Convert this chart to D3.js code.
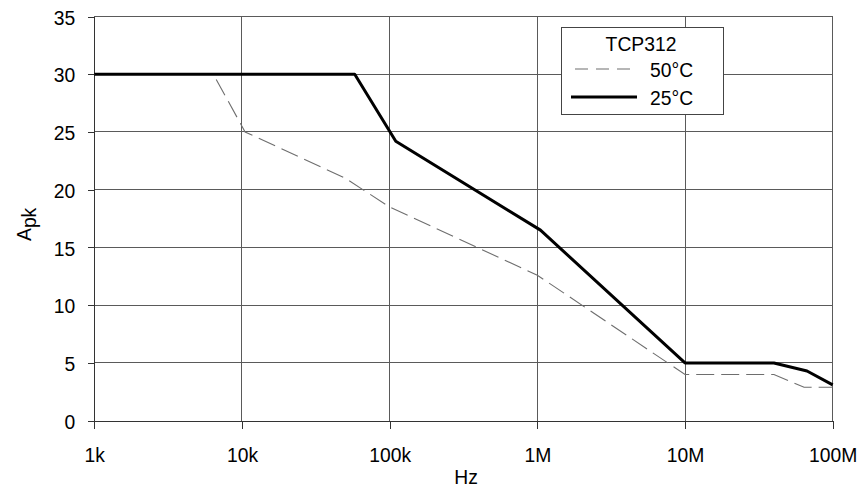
<!DOCTYPE html>
<html>
<head>
<meta charset="utf-8">
<script src="https://cdn.jsdelivr.net/npm/d3@7"></script>
<style>
  html, body { margin: 0; padding: 0; background: #fff; }
  svg { display: block; font-family: "Liberation Sans", Arial, sans-serif; }
</style>
</head>
<body>
<svg id="chart" width="861" height="491"></svg>
<script>
// ---- data ----
const xTicks = [1e3, 1e4, 1e5, 1e6, 1e7, 1e8];
const xTickLabels = ["1k", "10k", "100k", "1M", "10M", "100M"];
const yTicks = [0, 5, 10, 15, 20, 25, 30, 35];

const freq25 = [1e3, 5.8e4, 1.1e5, 1.05e6, 1e7, 4e7, 6.7e7, 1e8];
const amp25  = [30,  30,    24.2,  16.5,   5,   5,   4.3,   3.1];

const freq50 = [1e3, 6.4e3, 1.05e4, 5e4, 1e5,  1e6,  1e7, 4e7, 6.4e7, 1e8];
const amp50  = [30,  30,    25,     21,  18.5, 12.6, 4.0, 4.0, 2.9,   2.9];

const legendTitle = "TCP312";
const seriesNames = ["50\u00B0C", "25\u00B0C"];

// ---- layout ----
const svg = d3.select("#chart");
const x = d3.scaleLog().domain([1e3, 1e8]).range([94.3, 832.7]);
const y = d3.scaleLinear().domain([0, 35]).range([420.7, 16.5]);
const SX = 0.92;
const gridColor = "#5a5a5a";

// gridlines
const grid = svg.append("g");
grid.selectAll("line.h").data(yTicks.filter(d => d > 0)).join("line")
  .attr("x1", x(1e3)).attr("x2", x(1e8))
  .attr("y1", d => y(d)).attr("y2", d => y(d))
  .attr("stroke", gridColor).attr("stroke-width", 1).attr("shape-rendering", "crispEdges");
grid.selectAll("line.v").data(xTicks.slice(1)).join("line")
  .attr("x1", d => x(d)).attr("x2", d => x(d))
  .attr("y1", y(0)).attr("y2", y(35))
  .attr("stroke", gridColor).attr("stroke-width", 1).attr("shape-rendering", "crispEdges");

// axes
const xAxis = d3.axisBottom(x).tickValues(xTicks)
  .tickFormat((d, i) => xTickLabels[i]).tickSize(8).tickSizeOuter(0).tickPadding(18);
const gx = svg.append("g").attr("transform", `translate(0,${y(0)})`).call(xAxis);
const yAxis = d3.axisLeft(y).tickValues(yTicks).tickSize(6).tickSizeOuter(0).tickPadding(13);
const gy = svg.append("g").attr("transform", `translate(${x(1e3)},0)`).call(yAxis);

[gx, gy].forEach(g => {
  g.select(".domain").attr("stroke", "#333").attr("shape-rendering", "crispEdges");
  g.selectAll(".tick line").attr("stroke", "#333").attr("shape-rendering", "crispEdges");
  g.selectAll(".tick text").attr("fill", "#000")
    .style("font-family", '"Liberation Sans", Arial, sans-serif').style("font-size", "21px");
});
gx.selectAll(".tick text").attr("transform", `scale(${SX},1)`);
gy.selectAll(".tick text").attr("x", -19 / SX).attr("dy", "0.36em").attr("transform", `scale(${SX},1)`);

// axis titles
svg.append("text")
  .attr("transform", `translate(466,484) scale(${SX},1)`)
  .attr("text-anchor", "middle").style("font-size", "21px").attr("fill", "#000").text("Hz");

const yl = svg.append("text")
  .attr("transform", `translate(31,241) rotate(-90) scale(${SX},1)`)
  .attr("text-anchor", "start").style("font-size", "21px").attr("fill", "#000");
yl.append("tspan").text("A");
yl.append("tspan").attr("dy", 5).text("pk");

// lines
const line = d3.line().x(d => x(d[0])).y(d => y(d[1]));
const d50 = freq50.map((f, i) => [f, amp50[i]]);
const d25 = freq25.map((f, i) => [f, amp25[i]]);

svg.append("path").datum(d50).attr("d", line)
  .attr("fill", "none").attr("stroke", "#6e6e6e").attr("stroke-width", 1.1)
  .attr("stroke-dasharray", "18,7");
svg.append("path").datum(d25).attr("d", line)
  .attr("fill", "none").attr("stroke", "#000").attr("stroke-width", 3)
  .attr("stroke-linejoin", "round");

// legend
const lg = svg.append("g");
lg.append("rect").attr("x", 561).attr("y", 27.5).attr("width", 162).attr("height", 87)
  .attr("fill", "#fff").attr("stroke", "#444").attr("stroke-width", 1).attr("shape-rendering", "crispEdges");
lg.append("text").attr("transform", `translate(641,51) scale(${SX},1)`)
  .attr("text-anchor", "middle").style("font-size", "21px").text(legendTitle);
lg.append("line").attr("x1", 575).attr("x2", 632).attr("y1", 69).attr("y2", 69)
  .attr("stroke", "#6e6e6e").attr("stroke-width", 1.1).attr("stroke-dasharray", "13,8");
lg.append("line").attr("x1", 571).attr("x2", 637).attr("y1", 97).attr("y2", 97)
  .attr("stroke", "#000").attr("stroke-width", 3);
lg.append("text").attr("transform", `translate(650,77) scale(${SX},1)`)
  .style("font-size", "21px").text(seriesNames[0]);
lg.append("text").attr("transform", `translate(650,105) scale(${SX},1)`)
  .style("font-size", "21px").text(seriesNames[1]);
</script>
</body>
</html>
